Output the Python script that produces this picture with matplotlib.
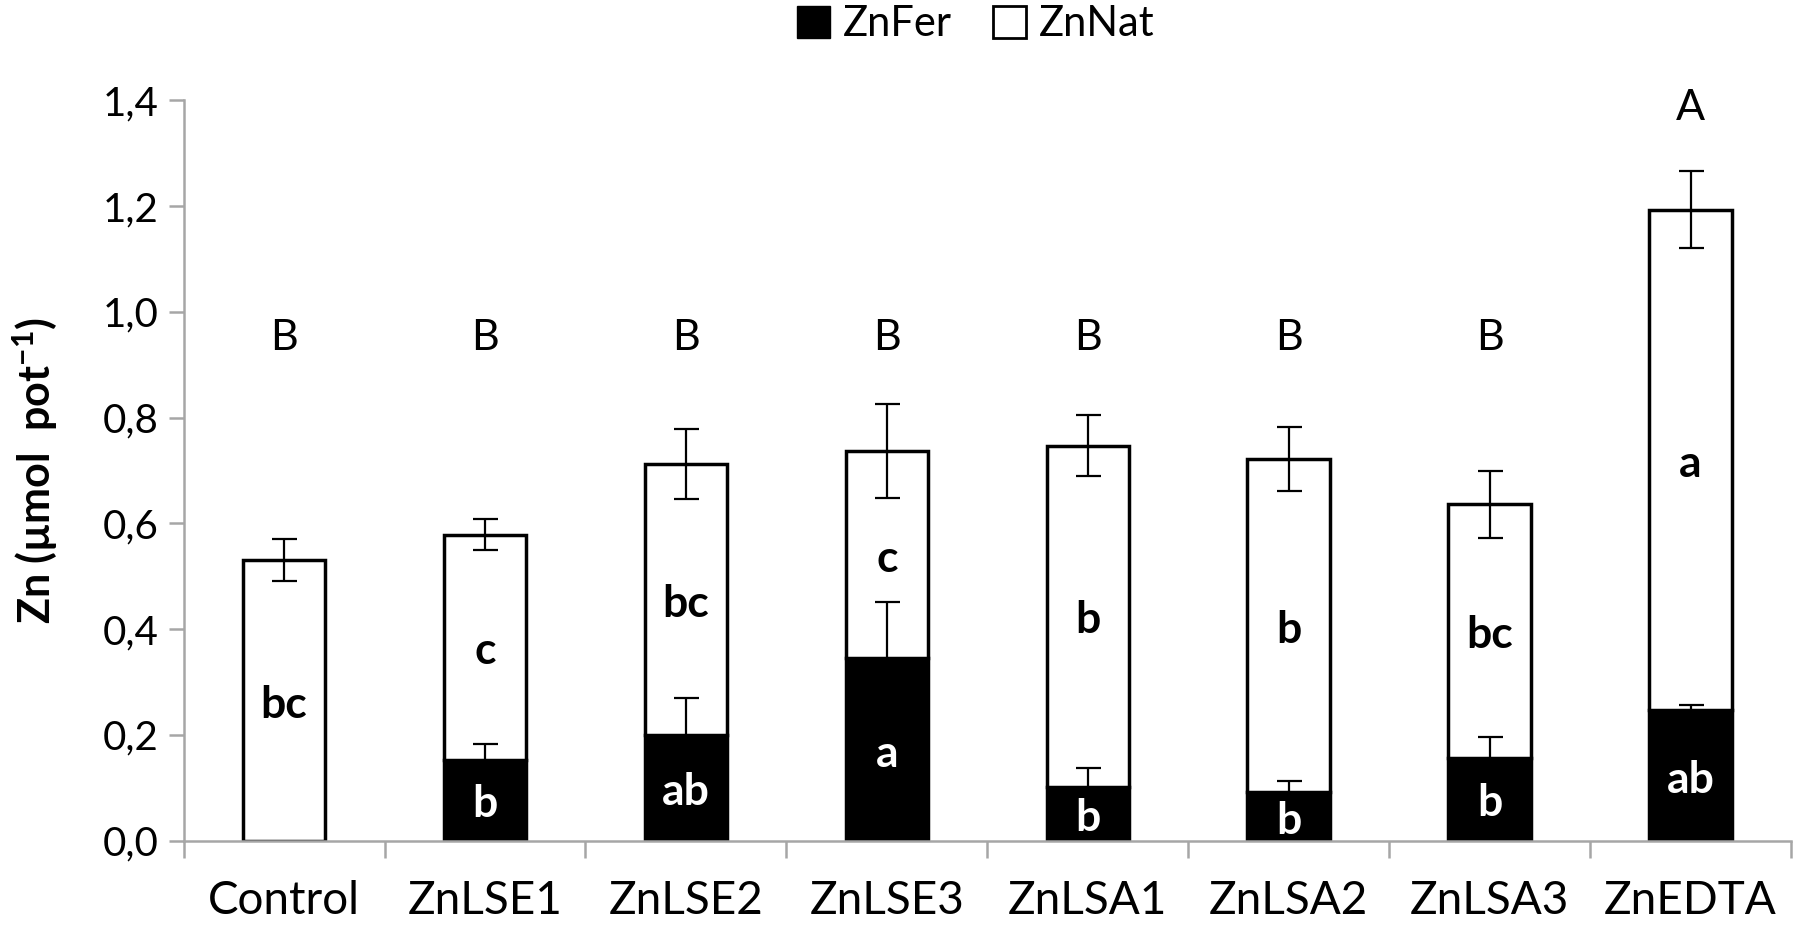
import numpy as np
import matplotlib
matplotlib.use('Agg')
import matplotlib.pyplot as plt
from matplotlib.patches import Patch

plt.rcParams['font.family'] = ['Lato', 'DejaVu Sans']
plt.rcParams['mathtext.fontset'] = 'custom'
plt.rcParams['mathtext.rm'] = 'Lato'
plt.rcParams['mathtext.bf'] = 'Lato:bold'

# Data
treatments = ['Control', 'ZnLSE1', 'ZnLSE2', 'ZnLSE3', 'ZnLSA1', 'ZnLSA2', 'ZnLSA3', 'ZnEDTA']
zn_fer = [0.0, 0.153, 0.200, 0.345, 0.102, 0.092, 0.157, 0.247]
zn_fer_err = [0.0, 0.030, 0.069, 0.107, 0.035, 0.020, 0.039, 0.010]
zn_total = [0.531, 0.579, 0.712, 0.737, 0.747, 0.722, 0.636, 1.193]
zn_total_err = [0.040, 0.030, 0.066, 0.089, 0.058, 0.060, 0.064, 0.073]

fer_letters = ['', 'b', 'ab', 'a', 'b', 'b', 'b', 'ab']
nat_letters = ['bc', 'c', 'bc', 'c', 'b', 'b', 'bc', 'a']
total_letters = ['B', 'B', 'B', 'B', 'B', 'B', 'B', 'A']
total_letter_y = [0.95, 0.95, 0.95, 0.95, 0.95, 0.95, 0.95, 1.385]

y_ticks = [0.0, 0.2, 0.4, 0.6, 0.8, 1.0, 1.2, 1.4]
y_tick_labels = ['0,0', '0,2', '0,4', '0,6', '0,8', '1,0', '1,2', '1,4']

zn_nat = [t - f for t, f in zip(zn_total, zn_fer)]
x = np.arange(len(treatments))
width = 0.41

fig = plt.figure(figsize=(18, 9.3), dpi=100)
ax = fig.add_axes([0.102, 0.096, 0.893, 0.796])

ax.bar(x, zn_fer, width, color='black', edgecolor='black', linewidth=2.5, zorder=2)
ax.bar(x, zn_nat, width, bottom=zn_fer, color='white', edgecolor='black', linewidth=2.5, zorder=2)

# error bars
ax.errorbar(x, zn_total, yerr=zn_total_err, fmt='none', ecolor='black',
            elinewidth=1.6, capsize=9, capthick=1.6, zorder=3)
has_fer = [i for i in range(len(x)) if zn_fer[i] > 0]
ax.errorbar(x[has_fer], np.array(zn_fer)[has_fer], yerr=np.array(zn_fer_err)[has_fer],
            fmt='none', ecolor='black', elinewidth=1.6, capsize=9, capthick=1.6, zorder=3)

# letters inside and above bars
for i in range(len(x)):
    if fer_letters[i]:
        ax.text(x[i], zn_fer[i] / 2 - 0.008, fer_letters[i], ha='center', va='center',
                color='white', fontsize=32, fontweight='bold', zorder=4)
    ax.text(x[i], zn_fer[i] + zn_nat[i] / 2 - 0.008, nat_letters[i], ha='center', va='center',
            color='black', fontsize=32, fontweight='bold', zorder=4)
    ax.text(x[i], total_letter_y[i], total_letters[i], ha='center', va='center',
            color='black', fontsize=31, zorder=4)

ax.set_xlim(-0.5, len(treatments) - 0.5)
ax.set_ylim(0, 1.4)
ax.set_yticks(y_ticks)
ax.set_yticklabels(y_tick_labels)
ax.set_xticks(x)
ax.set_xticklabels(treatments)
ax.set_xticks(np.arange(-0.5, len(treatments)), minor=True)

for side in ['top', 'right']:
    ax.spines[side].set_visible(False)
for side in ['left', 'bottom']:
    ax.spines[side].set_color('#a6a6a6')
    ax.spines[side].set_linewidth(1.8)

ax.tick_params(axis='y', colors='#a6a6a6', length=11, width=1.8, pad=7, labelsize=29, labelcolor='black')
ax.tick_params(axis='x', which='major', length=0, pad=28, labelsize=33, labelcolor='black')
ax.tick_params(axis='x', which='minor', length=12, width=1.8, color='#a6a6a6')

ax.set_ylabel(r'Zn (µmol  pot$^{\mathbf{-1}}$)', fontsize=31, fontweight='bold')
ax.yaxis.set_label_coords(-0.077, 0.5)

handles = [Patch(facecolor='black', edgecolor='black', label='ZnFer'),
           Patch(facecolor='white', edgecolor='black', linewidth=2, label='ZnNat')]
fig.legend(handles=handles, loc='center', bbox_to_anchor=(0.542, 0.974), ncol=2,
           frameon=False, fontsize=30, handlelength=0.8, handleheight=0.8,
           handletextpad=0.3, columnspacing=1.0)

fig.savefig('out.png', dpi=100)
